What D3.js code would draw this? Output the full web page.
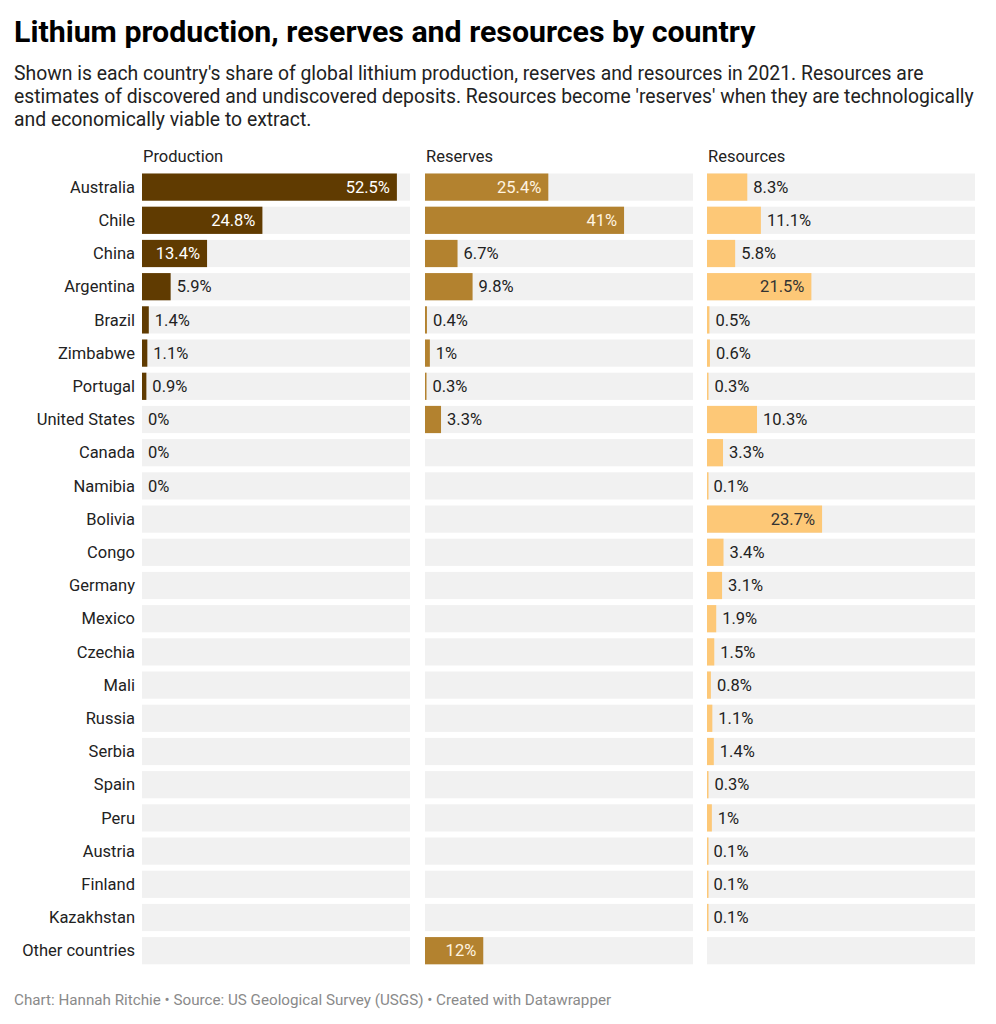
<!DOCTYPE html>
<html>
<head>
<meta charset="utf-8">
<script src="https://cdn.jsdelivr.net/npm/d3@7/dist/d3.min.js"></script>
<style>
  html, body { margin: 0; padding: 0; background: #fff; }
  svg { display: block; font-family: Roboto, "Noto Sans", sans-serif; }
</style>
</head>
<body>
<svg id="chart" width="996" height="1024"></svg>
<script>
const countries = ["Australia","Chile","China","Argentina","Brazil","Zimbabwe","Portugal","United States","Canada","Namibia","Bolivia","Congo","Germany","Mexico","Czechia","Mali","Russia","Serbia","Spain","Peru","Austria","Finland","Kazakhstan","Other countries"];
const production = [52.5,24.8,13.4,5.9,1.4,1.1,0.9,0,0,0,null,null,null,null,null,null,null,null,null,null,null,null,null,null];
const reserves   = [25.4,41,6.7,9.8,0.4,1,0.3,3.3,null,null,null,null,null,null,null,null,null,null,null,null,null,null,null,12];
const resources  = [8.3,11.1,5.8,21.5,0.5,0.6,0.3,10.3,3.3,0.1,23.7,3.4,3.1,1.9,1.5,0.8,1.1,1.4,0.3,1,0.1,0.1,0.1,null];
const columnNames = ["Production","Reserves","Resources"];
const columnColors = ["#603b01","#b3822f","#fdc877"];
const insideTextColors = ["#ffffff","#fff4e0","#333333"];

const svg = d3.select("#chart");

svg.append("text").attr("x",14).attr("y",42)
  .attr("font-size",30.3).attr("font-weight",700).attr("fill","#000")
  .text("Lithium production, reserves and resources by country");

const sub = ["Shown is each country's share of global lithium production, reserves and resources in 2021. Resources are",
  "estimates of discovered and undiscovered deposits. Resources become 'reserves' when they are technologically",
  "and economically viable to extract."];
svg.append("g").selectAll("text").data(sub).join("text")
  .attr("x",14).attr("y",(d,i)=>80+i*23)
  .attr("font-size",19.35).attr("fill","#222")
  .text(d=>d);

const colX = [142,425,707];
const colW = 268;
const x = d3.scaleLinear().domain([0,55.2]).range([0,colW]);
const y = d3.scaleBand().domain(countries).range([170.5,170.5+33.2*24]).paddingInner(0.18).paddingOuter(0.09);

// country labels
svg.append("g").selectAll("text").data(countries).join("text")
  .attr("x",135).attr("y",d=>y(d)+y.bandwidth()/2)
  .attr("dy","0.35em").attr("text-anchor","end")
  .attr("font-size",16.5).attr("fill","#222")
  .text(d=>d);

const series = [production,reserves,resources];
const measure = svg.append("text").attr("font-size",16.5).attr("visibility","hidden");
function textW(t){ measure.text(t); return measure.node().getComputedTextLength(); }
const fmt = v => (Math.round(v*10)/10) + "%";

series.forEach((vals,ci)=>{
  const g = svg.append("g").attr("transform",`translate(${colX[ci]},0)`);
  g.append("text").attr("x",1).attr("y",162).attr("font-size",16.5).attr("fill","#222").text(columnNames[ci]);
  g.selectAll("rect.bg").data(countries).join("rect").attr("class","bg")
    .attr("x",0).attr("y",d=>y(d)).attr("width",colW).attr("height",y.bandwidth())
    .attr("fill","#f1f1f1");
  const data = countries.map((c,i)=>({c, v: vals[i]})).filter(d=>d.v!==null);
  g.selectAll("rect.bar").data(data).join("rect").attr("class","bar")
    .attr("x",0).attr("y",d=>y(d.c)).attr("width",d=>Math.max(x(d.v), d.v>0?1.5:0)).attr("height",y.bandwidth())
    .attr("fill",columnColors[ci]);
  g.selectAll("text.val").data(data).join("text").attr("class","val")
    .each(function(d){
      const t = fmt(d.v);
      const w = textW(t);
      const bw = x(d.v);
      const inside = w + 14 < bw;
      d3.select(this)
        .attr("x", inside ? bw - 7 : Math.max(bw,0) + 6)
        .attr("text-anchor", inside ? "end" : "start")
        .attr("fill", inside ? insideTextColors[ci] : "#222")
        .text(t);
    })
    .attr("y",d=>y(d.c)+y.bandwidth()/2).attr("dy","0.35em")
    .attr("font-size",16.5);
});

svg.append("text").attr("x",14).attr("y",1005)
  .attr("font-size",15.2).attr("fill","#8a8a8a")
  .text("Chart: Hannah Ritchie \u2022 Source: US Geological Survey (USGS) \u2022 Created with Datawrapper");
</script>
</body>
</html>
